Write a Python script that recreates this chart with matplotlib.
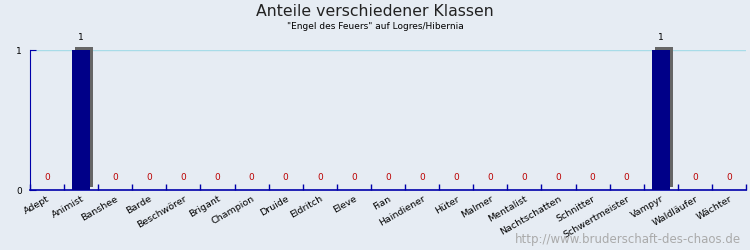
import matplotlib.pyplot as plt
import matplotlib.transforms as mtransforms
import numpy as np

klassen = ['Adept', 'Animist', 'Banshee', 'Barde', 'Beschwörer', 'Brigant',
           'Champion', 'Druide', 'Eldritch', 'Eleve', 'Fian', 'Haindiener',
           'Hüter', 'Malmer', 'Mentalist', 'Nachtschatten', 'Schnitter',
           'Schwertmeister', 'Vampyr', 'Waldläufer', 'Wächter']
anzahl = [0, 1, 0, 0, 0, 0, 0, 0, 0, 0, 0, 0, 0, 0, 0, 0, 0, 0, 1, 0, 0]

bg = '#e6ecf3'
fig = plt.figure(figsize=(7.5, 2.5), dpi=100, facecolor=bg)
ax = fig.add_axes([0.04, 0.24, 0.9547, 0.56], facecolor=bg)

x = np.arange(len(klassen))
werte = np.array(anzahl, dtype=float)

# Schatten der Balken (3 px nach rechts oben verschoben)
schatten = mtransforms.offset_copy(ax.transData, fig=fig, x=3, y=3, units='dots')
ax.bar(x, werte, width=0.53, color='#666666', transform=schatten, zorder=2,
       clip_on=False)
ax.bar(x, werte, width=0.53, color='#000088', zorder=3, clip_on=False)

# Wertebeschriftung
for xi, v in zip(x, anzahl):
    if v > 0:
        ax.annotate(str(v), (xi, v), xytext=(0, 6), textcoords='offset points',
                    ha='center', va='bottom', fontsize=6.5, color='black')
    else:
        ax.annotate(str(v), (xi, 0), xytext=(0, 6), textcoords='offset points',
                    ha='center', va='bottom', fontsize=6.5, color='#bb0000')

ax.axhline(1, color='#a8dce8', linewidth=1, zorder=1)

ax.set_xlim(-0.5, len(klassen) - 0.5)
ax.set_ylim(0, 1)

# Achsen
for s in ['top', 'right']:
    ax.spines[s].set_visible(False)
ax.spines['left'].set_color('#0000aa')
ax.spines['bottom'].set_color('#0000aa')
ax.spines['bottom'].set_linewidth(1.2)

ax.set_xticks(np.arange(len(klassen) + 1) - 0.5)
ax.set_xticklabels([])
ax.set_xticks(x, minor=True)
ax.set_xticklabels(klassen, minor=True, rotation=30, ha='right',
                   rotation_mode='anchor', fontsize=6.8)
ax.tick_params(axis='x', which='major', direction='in', length=4,
               color='#0000aa', width=1)
ax.tick_params(axis='x', which='minor', length=0, pad=3)

ax.set_yticks([0, 1])
ax.set_yticklabels(['0', '1'], fontsize=6.5)
ax.tick_params(axis='y', direction='in', length=4, color='#0000aa', pad=6)

fig.text(0.5, 0.955, 'Anteile verschiedener Klassen', ha='center', va='center',
         fontsize=11.3, color='#222222')
fig.text(0.5, 0.895, '"Engel des Feuers" auf Logres/Hibernia', ha='center',
         va='center', fontsize=6.5, color='black')
fig.text(0.988, 0.04, 'http://www.bruderschaft-des-chaos.de', ha='right',
         va='center', fontsize=8.5, color='#aaaaaa')

fig.savefig('out.png', dpi=100, facecolor=bg)
